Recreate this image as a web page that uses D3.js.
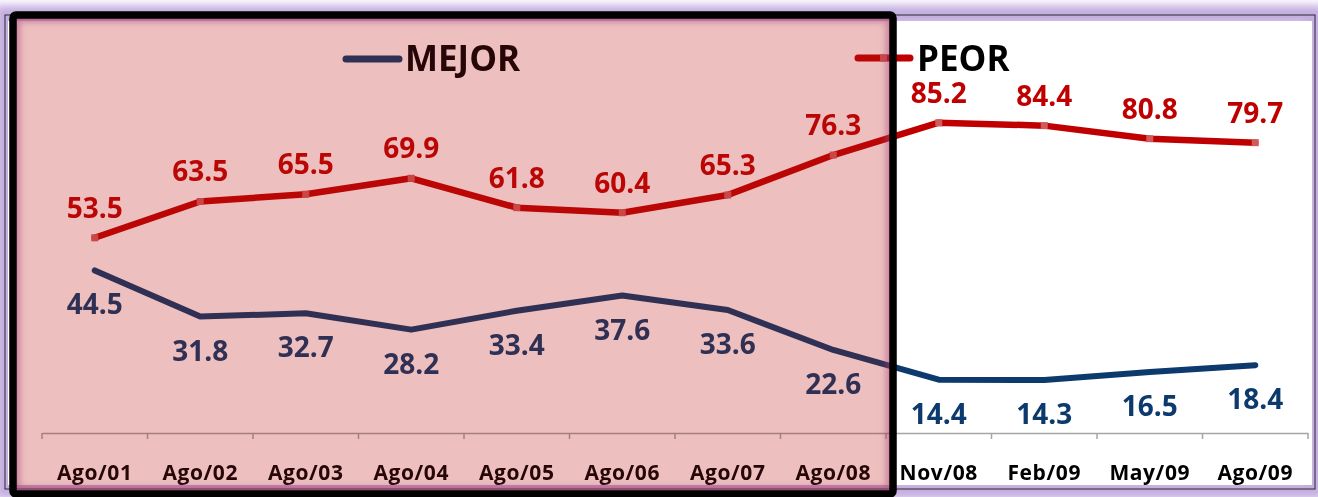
<!DOCTYPE html>
<html>
<head>
<meta charset="utf-8">
<script src="https://cdn.jsdelivr.net/npm/d3@7"></script>
<style>
  body { margin: 0; background: #fff; }
  svg { display: block; }
  text { font-family: "Open Sans", sans-serif; font-weight: bold; }
</style>
</head>
<body>
<svg id="vis"></svg>
<script>
const width = 1318;
const height = 497;

const periods = ["Ago/01", "Ago/02", "Ago/03", "Ago/04", "Ago/05", "Ago/06", "Ago/07", "Ago/08", "Nov/08", "Feb/09", "May/09", "Ago/09"];
const mejor = [44.5, 31.8, 32.7, 28.2, 33.4, 37.6, 33.6, 22.6, 14.4, 14.3, 16.5, 18.4];
const peor = [53.5, 63.5, 65.5, 69.9, 61.8, 60.4, 65.3, 76.3, 85.2, 84.4, 80.8, 79.7];

const blue = "#0d3a6c";
const red = "#c00000";

const svg = d3.select("svg#vis").attr("width", width).attr("height", height);
const defs = svg.append("defs");

defs.append("filter").attr("id", "glow")
  .attr("x", "-5%").attr("y", "-5%").attr("width", "110%").attr("height", "110%")
  .append("feGaussianBlur").attr("stdDeviation", 4);

defs.append("filter").attr("id", "soft")
  .attr("x", "-5%").attr("y", "-5%").attr("width", "110%").attr("height", "110%")
  .append("feGaussianBlur").attr("stdDeviation", 3);

defs.append("clipPath").attr("id", "inside")
  .append("rect").attr("x", 16).attr("y", 18).attr("width", 874).attr("height", 473);

// outer frame with lavender glow
svg.append("rect")
  .attr("x", 5).attr("y", 15).attr("width", 1310).attr("height", 474)
  .attr("fill", "none").attr("stroke", "#c4aee0").attr("stroke-width", 20)
  .attr("filter", "url(#glow)");
svg.append("rect")
  .attr("x", 8).attr("y", 21).attr("width", 1304).attr("height", 464)
  .attr("fill", "#fff");
svg.append("rect")
  .attr("x", 5).attr("y", 15).attr("width", 1310).attr("height", 474)
  .attr("fill", "none").attr("stroke", "#2a2a2a").attr("stroke-width", 1);

const x = d3.scaleBand().domain(periods).range([42, 1308]);
const y = d3.scaleLinear().domain([0, 100]).range([432, 69]);
const cx = d => x(d) + x.bandwidth() / 2;

// axis
const axis = svg.append("g")
  .attr("transform", "translate(0,433)")
  .call(d3.axisBottom(x).tickSize(0).tickPadding(0));
axis.select(".domain").attr("stroke", "#a6a6a6").attr("stroke-width", 1.5);
axis.selectAll(".tick").remove();
axis.selectAll(".sep")
  .data(d3.range(periods.length + 1))
  .enter().append("line")
  .attr("x1", i => x.range()[0] + i * x.step())
  .attr("x2", i => x.range()[0] + i * x.step())
  .attr("y1", 0).attr("y2", 6)
  .attr("stroke", "#a6a6a6").attr("stroke-width", 1.5);

svg.selectAll(".xlab")
  .data(periods)
  .enter().append("text")
  .attr("x", cx).attr("y", 480)
  .attr("text-anchor", "middle")
  .style("font-size", "21px")
  .style("letter-spacing", "0.6px")
  .attr("fill", "#000")
  .text(d => d);

const line = d3.line()
  .x((d, i) => cx(periods[i]))
  .y(d => y(d));

svg.append("path").datum(mejor)
  .attr("d", line)
  .attr("fill", "none").attr("stroke", blue).attr("stroke-width", 6)
  .attr("stroke-linejoin", "round").attr("stroke-linecap", "round");

svg.append("path").datum(peor)
  .attr("d", line)
  .attr("fill", "none").attr("stroke", red).attr("stroke-width", 6.5)
  .attr("stroke-linejoin", "round").attr("stroke-linecap", "round");

svg.selectAll(".mk")
  .data(peor)
  .enter().append("rect")
  .attr("x", (d, i) => cx(periods[i]) - 3.5)
  .attr("y", d => y(d) - 3.5)
  .attr("width", 7).attr("height", 7)
  .attr("fill", "#d25a5a");

svg.selectAll(".lp")
  .data(peor)
  .enter().append("text")
  .attr("x", (d, i) => cx(periods[i]))
  .attr("y", d => y(d) - 20)
  .attr("text-anchor", "middle")
  .style("font-size", "28px")
  .attr("fill", red)
  .text(d => d.toFixed(1));

svg.selectAll(".lm")
  .data(mejor)
  .enter().append("text")
  .attr("x", (d, i) => cx(periods[i]))
  .attr("y", d => y(d) + 44)
  .attr("text-anchor", "middle")
  .style("font-size", "28px")
  .attr("fill", blue)
  .text(d => d.toFixed(1));

// legend
const legend = svg.append("g");
legend.append("line")
  .attr("x1", 346).attr("x2", 399).attr("y1", 59).attr("y2", 59)
  .attr("stroke", blue).attr("stroke-width", 7).attr("stroke-linecap", "round");
legend.append("text")
  .attr("x", 405).attr("y", 71)
  .style("font-size", "35px").attr("fill", "#000")
  .text("MEJOR");
legend.append("line")
  .attr("x1", 858).attr("x2", 910).attr("y1", 58).attr("y2", 58)
  .attr("stroke", red).attr("stroke-width", 7).attr("stroke-linecap", "round");
legend.append("rect")
  .attr("x", 880).attr("y", 54.5).attr("width", 7).attr("height", 7)
  .attr("fill", "#d25a5a");
legend.append("text")
  .attr("x", 917).attr("y", 71)
  .style("font-size", "35px").attr("fill", "#000")
  .text("PEOR");

// translucent highlight over the first eight periods
svg.append("rect")
  .attr("x", 13).attr("y", 15).attr("width", 880).attr("height", 479)
  .attr("fill", "rgb(234,218,218)")
  .style("mix-blend-mode", "multiply");
svg.append("rect")
  .attr("x", 13).attr("y", 15).attr("width", 880).attr("height", 479)
  .attr("fill", "rgb(255,40,40)").attr("fill-opacity", 0.15);

svg.append("g").attr("clip-path", "url(#inside)")
  .append("rect")
  .attr("x", 13).attr("y", 15).attr("width", 880).attr("height", 479)
  .attr("fill", "none").attr("stroke", "#a8427e").attr("stroke-opacity", 0.5)
  .attr("stroke-width", 14).attr("filter", "url(#soft)");

svg.append("rect")
  .attr("x", 13).attr("y", 15).attr("width", 880).attr("height", 479)
  .attr("rx", 3)
  .attr("fill", "none").attr("stroke", "#000").attr("stroke-width", 7.5);
</script>
</body>
</html>
